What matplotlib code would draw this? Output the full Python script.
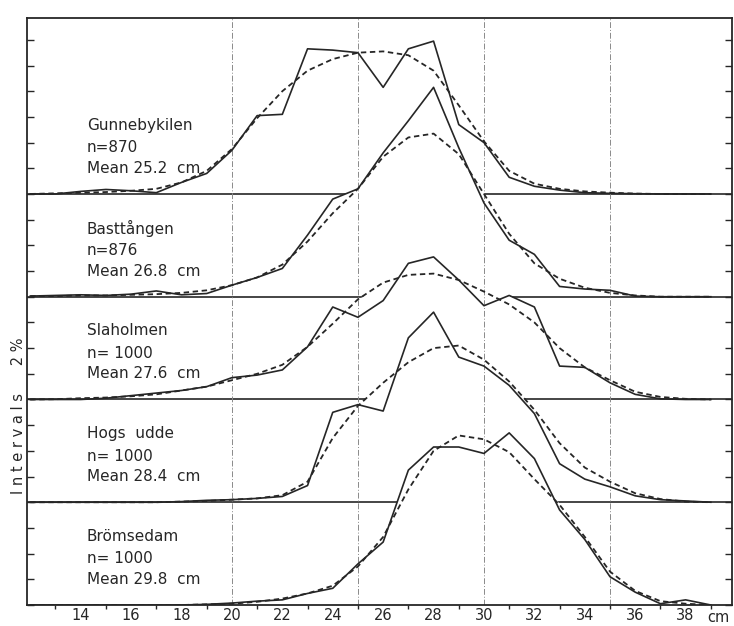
import numpy as np
import matplotlib
matplotlib.use("Agg")
import matplotlib.pyplot as plt

# ---------------- data (percent per 1-cm class) ----------------
length_cm = list(range(12, 40))  # 12 .. 39

sites = ["Gunnebykilen", "Basttången", "Slaholmen", "Hogs  udde", "Brömsedam"]
n_labels = ["n=870", "n=876", "n= 1000", "n= 1000", "n= 1000"]
mean_labels = ["Mean 25.2  cm", "Mean 26.8  cm", "Mean 27.6  cm", "Mean 28.4  cm", "Mean 29.8  cm"]

#                 12    13    14    15    16    17    18   19   20   21   22   23    24    25    26    27    28    29    30    31   32   33   34   35    36    37    38   39
gunnebykilen_obs = [0,  0.0,  0.2, 0.35, 0.25, 0.1,  0.9, 1.6, 3.4, 6.1, 6.2, 11.3, 11.2, 11.0, 8.3, 11.3, 11.9,  5.4,  4.0,  1.3, 0.6, 0.3, 0.1, 0.05, 0.02, 0,    0,   0]
gunnebykilen_fit = [0,  0.05, 0.1, 0.15, 0.25, 0.4,  0.9, 1.8, 3.5, 5.9, 8.0, 9.6, 10.5, 11.0, 11.1, 10.8, 9.6,  6.9,  4.1,  1.8, 0.8, 0.4, 0.2, 0.1,  0.03, 0,    0,   0]

basttangen_obs = [0.05, 0.1, 0.15, 0.1,  0.2, 0.45, 0.15, 0.25, 0.9, 1.5, 2.2, 4.8, 7.6,  8.4, 11.2, 13.7, 16.3, 11.6, 7.3, 4.4, 3.3, 0.8, 0.6, 0.5, 0.05, 0, 0, 0]
basttangen_fit = [0.05, 0.05, 0.1, 0.1, 0.15, 0.2,  0.3,  0.5,  0.9, 1.5, 2.5, 4.3, 6.5,  8.4, 10.9, 12.4, 12.7, 11.1, 8.0, 4.9, 2.6, 1.4, 0.7, 0.3, 0.1,  0, 0, 0]

slaholmen_obs = [0, 0,    0,   0.1,  0.3, 0.5, 0.7, 1.0, 1.7, 1.9, 2.3, 4.1, 7.2, 6.4, 7.7, 10.6, 11.1, 9.3, 7.3, 8.1, 7.2, 2.6, 2.5, 1.3, 0.4, 0.05, 0,    0]
slaholmen_fit = [0, 0.02, 0.1, 0.15, 0.25, 0.4, 0.7, 1.0, 1.5, 2.0, 2.7, 4.1, 5.9, 7.8, 9.1, 9.7,  9.8,  9.3, 8.4, 7.4, 6.0, 4.0, 2.5, 1.5, 0.6, 0.2,  0.05, 0]

hogs_udde_obs = [0, 0, 0, 0, 0, 0, 0.05, 0.15, 0.2, 0.3, 0.45, 1.3, 7.0, 7.6, 7.1, 12.8, 14.8, 11.3, 10.6, 9.1, 6.9, 3.0, 1.8, 1.2, 0.5, 0.2,  0.1,  0]
hogs_udde_fit = [0, 0, 0, 0, 0, 0, 0.05, 0.1,  0.2, 0.3, 0.55, 1.6, 5.0, 7.5, 9.3, 10.9, 12.0, 12.2, 11.1, 9.4, 7.2, 4.6, 2.7, 1.6, 0.7, 0.25, 0.05, 0]

bromsedam_obs = [0, 0, 0, 0, 0, 0, 0, 0.05, 0.15, 0.3,  0.4, 0.9, 1.3, 3.2, 4.9, 10.5, 12.3, 12.3, 11.8, 13.4, 11.4, 7.4, 5.1, 2.2, 1.0, 0.1, 0.4, 0]
bromsedam_fit = [0, 0, 0, 0, 0, 0, 0, 0.05, 0.1,  0.25, 0.5, 0.9, 1.5, 3.0, 5.3, 9.0,  12.0, 13.2, 12.9, 11.9, 9.8,  7.8, 5.3, 2.6, 1.1, 0.3, 0.1, 0]

observed = [gunnebykilen_obs, basttangen_obs, slaholmen_obs, hogs_udde_obs, bromsedam_obs]
fitted = [gunnebykilen_fit, basttangen_fit, slaholmen_fit, hogs_udde_fit, bromsedam_fit]
offsets = [32, 24, 16, 8, 0]  # stacking: each panel spans 8 percentage units

x_ticks = list(range(14, 39, 2))

# ---------------- style ----------------
plt.rcParams["font.family"] = ["DejaVu Sans"]
INK = "#262626"

W, H = 734, 626
fig = plt.figure(figsize=(W / 100, H / 100), dpi=100)
ax = fig.add_axes([27 / W, 1 - 605 / H, (732 - 27) / W, (605 - 18) / H])
ax.set_xlim(11.87, 39.84)
ax.set_ylim(0, 45.7)

x = np.array(length_cm, dtype=float)

# panel baselines
for off in offsets[:-1]:
    ax.axhline(off, color=INK, lw=1.2, zorder=1)

# each lower panel's curve area occludes the baseline of the panel above
for obs, fit, off in zip(observed, fitted, offsets):
    env = off + np.maximum(np.array(obs), np.array(fit))
    lo = off + 0.4
    ax.fill_between(x, lo, env, where=env > lo, interpolate=True,
                    color="white", lw=0, zorder=2)

# vertical reference lines
for xv in (20, 25, 30, 35):
    ax.axvline(xv, color="#8a8a8a", lw=0.7, ls=(0, (6, 2, 1, 2)), zorder=2.5)

for obs, fit, off in zip(observed, fitted, offsets):
    ax.plot(x, off + np.array(obs), color=INK, lw=1.2, zorder=3)
    ax.plot(x, off + np.array(fit), color=INK, lw=1.3, ls=(0, (3, 2)), zorder=3)

# panel texts
for site, nl, ml, off in zip(sites, n_labels, mean_labels, offsets):
    for txt, dy in ((site, 5.35), (nl, 3.6), (ml, 2.0)):
        ax.text(14.25, off + dy, txt, fontsize=11, color=INK, ha="left", va="center", zorder=4)

# axes / ticks
for sp in ax.spines.values():
    sp.set_linewidth(1.3)
    sp.set_color(INK)

ax.set_xticks(x_ticks)
ax.set_xticklabels([str(v) for v in x_ticks])
ax.set_xticks(list(range(13, 40, 2)), minor=True)
ax.tick_params(axis="x", which="major", length=0, pad=2.5, labelsize=10.5, colors=INK)
ax.tick_params(axis="x", which="minor", length=3, width=1, direction="out", color=INK)
ax.set_yticks(list(range(0, 46, 2)))
ax.set_yticklabels([])
ax.tick_params(axis="y", which="major", direction="in", length=5, width=1,
               left=True, right=True, color=INK)

ax.text(39.3, -0.95, "cm", fontsize=10.5, color=INK, ha="center", va="center", clip_on=False)

fig.text(19 / W, 1 - 416 / H, "I n t e r v a l s      2 %", rotation=90,
         fontsize=10.5, color=INK, ha="center", va="center")

fig.savefig("out.png", dpi=100, facecolor="white")
